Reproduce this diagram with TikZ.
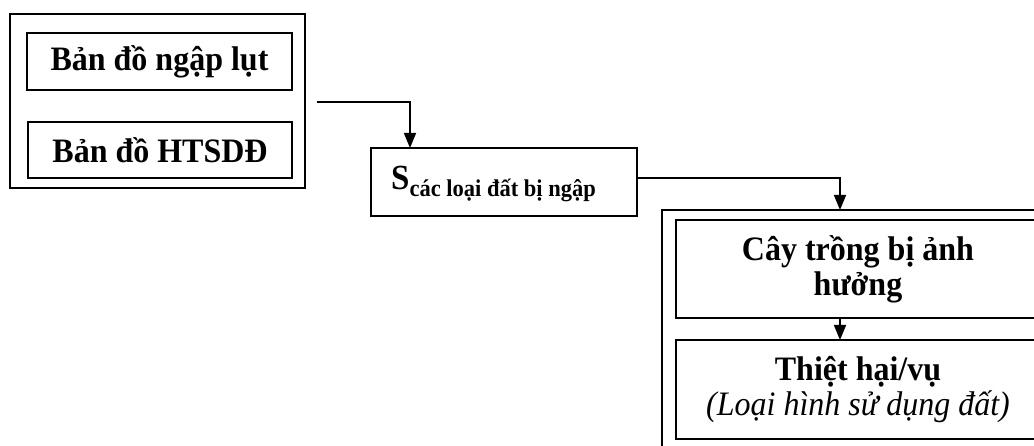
\documentclass[tikz,border=0pt]{standalone}
\usepackage{fontspec}
\usepackage{graphicx}
\setmainfont{Liberation Serif}
\usetikzlibrary{arrows.meta}
\newcommand{\vstr}[1]{\scalebox{1}[1.07]{#1}}
\begin{document}
\begin{tikzpicture}[x=1pt,y=1pt,
  box/.style={draw,line width=1.6pt,rectangle,inner sep=0pt,outer sep=0pt,align=center,
    font=\bfseries\fontsize{32pt}{36pt}\selectfont},
  arr/.style={line width=1.6pt,-{Triangle[width=12pt,length=15pt]}},
  conn/.style={line width=1.6pt}]
\useasboundingbox (0,0) rectangle (1034,-446);
\clip (0,0) rectangle (1034,-446);
% left group
\node[box,minimum width=295pt,minimum height=174pt] (L) at (157.5,-101) {};
\node[box,minimum width=265pt,minimum height=57pt] (A) at (159.5,-61.5) {\raisebox{-3pt}{\vstr{Bản đồ ngập lụt}}};
\node[box,minimum width=264pt,minimum height=56pt] (B) at (160,-150) {\raisebox{-3pt}{\vstr{Bản đồ HTSDĐ}}};
% S box
\node[box,minimum width=266pt,minimum height=68pt] (S) at (504,-182) {};
\node[anchor=base west,inner sep=0pt,font=\bfseries\fontsize{33pt}{36pt}\selectfont] (St) at (391,-190)
  {\vstr{S}\raisebox{-7pt}{\fontsize{22.5pt}{24pt}\selectfont\vstr{các loại đất bị ngập}}};
% right group
\node[box,minimum width=390pt,minimum height=260pt] (R) at (857,-340) {};
\node[box,minimum width=364pt,minimum height=98pt] (C) at (858,-269) {\vstr{Cây trồng bị ảnh}\\[-1pt]\vstr{hưởng}};
\node[box,minimum width=364pt,minimum height=99pt] (T) at (858,-389.5)
  {\vstr{Thiệt hại/vụ}\\[-1pt]{\mdseries\itshape \vstr{(Loại hình sử dụng đất)}}};
% connectors
\coordinate (c1) at (317,-102);
\draw[arr] (c1) -| ([xshift=39pt]S.north west);
\draw[arr] ([yshift=4pt]S.east) -| ([xshift=178pt]R.north west);
\draw[arr] ([xshift=164pt]C.south west) -- ([xshift=164pt]T.north west);
\end{tikzpicture}
\end{document}
